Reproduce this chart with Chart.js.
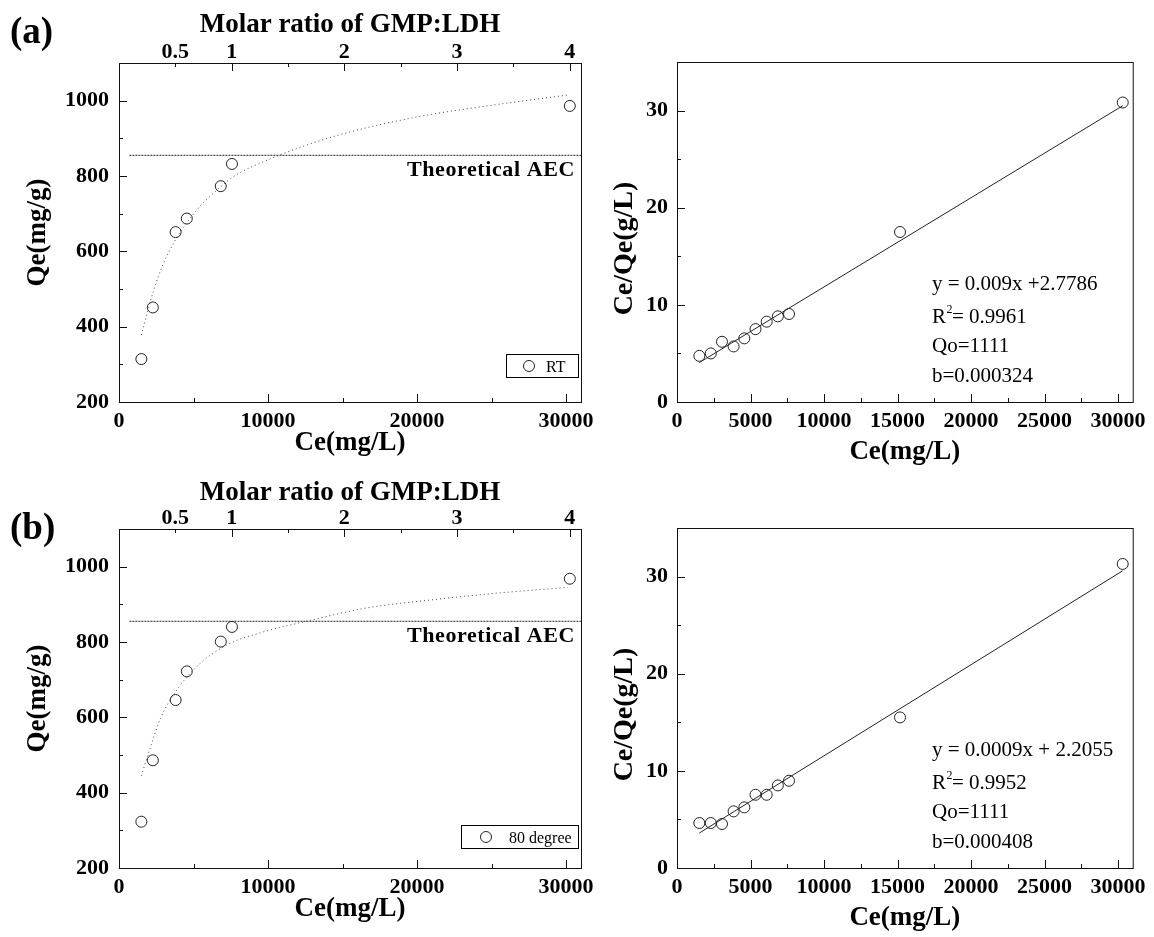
<!DOCTYPE html>
<html>
<head>
<meta charset="utf-8">
<title>GMP-LDH isotherms</title>
<script src="https://cdn.jsdelivr.net/npm/chart.js@4.4.0/dist/chart.umd.min.js"></script>
<style>
  body { margin: 0; background: #fff; }
  #wrap { position: relative; width: 1154px; height: 937px; overflow: hidden; }
  canvas { position: absolute; }
</style>
</head>
<body>
<div id="wrap">
  <canvas id="isoA" width="605" height="466" style="left:0;top:0"></canvas>
  <canvas id="linA" width="554" height="466" style="left:600px;top:0"></canvas>
  <canvas id="isoB" width="605" height="466" style="left:0;top:466px"></canvas>
  <canvas id="linB" width="554" height="466" style="left:600px;top:466px"></canvas>
</div>
<script>
// ********* data *********

// (a) room temperature isotherm
const ceIsoA = [1500, 2270, 3800, 4550, 6830, 7580, 30250];
const qeIsoA = [314, 451, 651, 687, 773, 832, 986];
const ceCurveA = [1500, 2330, 2890, 3780, 5220, 6330, 7670, 10000, 14330, 19890, 24330, 30110];
const qeCurveA = [378, 497, 559, 630, 710, 754, 798, 843, 904, 956, 984, 1015];

// (b) 80 degree isotherm
const ceIsoB = [1500, 2270, 3800, 4550, 6830, 7580, 30250];
const qeIsoB = [323, 486, 646, 722, 801, 840, 968];
const ceCurveB = [1500, 2120, 2780, 3890, 5220, 7220, 9450, 13000, 16560, 21000, 25450, 30110];
const qeCurveB = [445, 522, 597, 673, 735, 792, 824, 859, 890, 912, 930, 945];

// theoretical AEC line
const aecQe = 855;
const aecCe = [700, 31000];

// Langmuir linear plots Ce/Qe vs Ce
const ceLin = [1520, 2300, 3060, 3850, 4580, 5340, 6100, 6860, 7620, 15170, 30320];
const cqA = [4.75, 5.0, 6.2, 5.72, 6.55, 7.5, 8.27, 8.82, 9.06, 17.5, 30.83];
const cqB = [4.63, 4.63, 4.53, 5.83, 6.24, 7.54, 7.54, 8.5, 8.98, 15.5, 31.3];
const ceFit = [1520, 30320];
const cqFitA = [4.06, 30.5];
const cqFitB = [3.6, 30.6];

// axes: tick positions and the labelled ones
const ceMax = 31000;
const molarMax = 4.1;
const molarTicks = [0.5, 1, 1.5, 2, 2.5, 3, 3.5, 4];
const molarLabels = [0.5, 1, 2, 3, 4];
const qeTicks = [200, 300, 400, 500, 600, 700, 800, 900, 1000, 1100];
const qeLabels = [200, 400, 600, 800, 1000];
const ceTicksIso = [0, 5000, 10000, 15000, 20000, 25000, 30000];
const ceLabelsIso = [0, 10000, 20000, 30000];
const ceTicksLin = [0, 2500, 5000, 7500, 10000, 12500, 15000, 17500, 20000, 22500, 25000, 27500, 30000];
const ceLabelsLin = [0, 5000, 10000, 15000, 20000, 25000, 30000];
const cqTicks = [0, 5, 10, 15, 20, 25, 30];
const cqLabels = [0, 10, 20, 30];

const eqA = ['y = 0.009x +2.7786', '0.9961', 'Qo=1111', 'b=0.000324'];
const eqB = ['y = 0.0009x + 2.2055', '0.9952', 'Qo=1111', 'b=0.000408'];

// ********* helpers *********

const SERIF = "'Liberation Serif', 'Times New Roman', Times, serif";
const tickFont = () => ({ family: SERIF, size: 22, weight: 'bold', lineHeight: 1 });
const titleFont = () => ({ family: SERIF, size: 27, weight: 'bold', lineHeight: 1 });
const toXY = (xs, ys) => xs.map((x, i) => ({ x: x, y: ys[i] }));
const has = (list, v) => list.some(l => Math.abs(l - v) < 1e-6);
const labelOnly = list => v => has(list, v) ? String(v) : '';
const fixTicks = list => s => { s.ticks = list.map(v => ({ value: v })); };

// frame + inward tick marks
const inTicks = {
  id: 'inTicks',
  afterDraw(chart, args, o) {
    const ctx = chart.ctx, a = chart.chartArea;
    ctx.save();
    ctx.strokeStyle = '#111';
    ctx.lineWidth = 1;
    ctx.strokeRect(a.left + 0.5, a.top + 0.5, a.right - a.left, a.bottom - a.top);
    Object.keys(chart.scales).forEach(id => {
      const s = chart.scales[id], step = o.major[id];
      s.ticks.forEach(t => {
        const r = t.value / step;
        const len = Math.abs(r - Math.round(r)) < 1e-6 ? 8 : 4;
        const p = Math.round(s.getPixelForValue(t.value)) + 0.5;
        ctx.beginPath();
        if (s.position === 'bottom') { ctx.moveTo(p, a.bottom); ctx.lineTo(p, a.bottom - len); }
        else if (s.position === 'top') { ctx.moveTo(p, a.top); ctx.lineTo(p, a.top + len); }
        else { ctx.moveTo(a.left, p); ctx.lineTo(a.left + len, p); }
        ctx.stroke();
      });
    });
    ctx.restore();
  }
};

// panel letters, AEC label, legend box, equations
const notes = {
  id: 'notes',
  afterDraw(chart, args, o) {
    const ctx = chart.ctx, a = chart.chartArea;
    ctx.save();
    ctx.fillStyle = '#000';
    ctx.textBaseline = 'alphabetic';
    if (o.letter) {
      ctx.font = 'bold 37px ' + SERIF;
      ctx.textAlign = 'left';
      ctx.fillText(o.letter.text, o.letter.x, o.letter.y);
    }
    if (o.aec) {
      const y = chart.scales.y.getPixelForValue(aecQe);
      ctx.font = 'bold 22px ' + SERIF;
      ctx.textAlign = 'right';
      ctx.letterSpacing = '0.6px';
      ctx.fillText('Theoretical AEC', a.right - 6, y + 21);
      ctx.letterSpacing = '0px';
    }
    if (o.legend) {
      const L = o.legend, left = a.right - 3 - L.w;
      ctx.strokeStyle = '#000';
      ctx.lineWidth = 1;
      ctx.strokeRect(left + 0.5, L.top + 0.5, L.w, 23);
      ctx.strokeStyle = '#222';
      ctx.beginPath();
      ctx.arc(left + L.dot, L.top + 12, 5.5, 0, Math.PI * 2);
      ctx.stroke();
      ctx.font = '16px ' + SERIF;
      ctx.textAlign = 'left';
      ctx.fillText(chart.data.datasets[0].label, left + L.txt, L.top + 18);
    }
    if (o.eq) {
      const x = a.left + 255, base = [290, 323, 352, 382];
      ctx.textAlign = 'left';
      ctx.font = '21px ' + SERIF;
      ctx.fillText(o.eq[0], x, base[0]);
      ctx.fillText('R', x, base[1]);
      const w = ctx.measureText('R').width;
      ctx.font = '12px ' + SERIF;
      ctx.fillText('2', w + x + 0.5, base[1] - 10);
      ctx.font = '21px ' + SERIF;
      ctx.fillText('= ' + o.eq[1], x + w + 6, base[1]);
      ctx.fillText(o.eq[2], x, base[2]);
      ctx.fillText(o.eq[3], x, base[3]);
    }
    if (o.yTitle) {
      ctx.translate(o.yTitle.x, o.yTitle.y);
      ctx.rotate(-Math.PI / 2);
      ctx.font = 'bold 28px ' + SERIF;
      ctx.textAlign = 'center';
      ctx.textBaseline = 'middle';
      ctx.fillText(o.yTitle.text, 0, 0);
    }
    ctx.restore();
  }
};

const noGrid = { display: false, drawTicks: false };
const baseTicks = { autoSkip: false, maxRotation: 0, color: '#000' };

// ********* isotherm panels (left) *********

const isoChart = (id, p) => new Chart(document.getElementById(id), {
  type: 'scatter',
  data: {
    datasets: [{
      label: p.name,
      data: toXY(p.ce, p.qe),
      pointRadius: 5.5, pointHoverRadius: 5.5,
      borderColor: '#222', backgroundColor: 'rgba(0,0,0,0)', borderWidth: 1
    }, {
      data: toXY(p.ceCurve, p.qeCurve),
      showLine: true, pointRadius: 0, cubicInterpolationMode: 'monotone',
      borderColor: '#444', borderWidth: 1, borderDash: [1, 3]
    }, {
      data: toXY(aecCe, [aecQe, aecQe]),
      showLine: true, pointRadius: 0,
      borderColor: '#222', borderWidth: 1, borderDash: [2, 1]
    }]
  },
  options: {
    responsive: false, animation: false, devicePixelRatio: 1,
    layout: { padding: { left: 0, right: 24, top: 0, bottom: 0 } },
    plugins: {
      legend: { display: false }, tooltip: { enabled: false },
      inTicks: { major: { x: 10000, x2: 1, y: 200 } },
      notes: { letter: p.letter, aec: true, legend: p.legend }
    },
    scales: {
      x: {
        type: 'linear', position: 'bottom', min: 0, max: ceMax,
        grid: noGrid, border: { display: false },
        afterBuildTicks: fixTicks(ceTicksIso),
        ticks: Object.assign({}, baseTicks, { padding: 8, font: tickFont(), callback: labelOnly(ceLabelsIso) }),
        title: { display: true, text: 'Ce(mg/L)', color: '#000', font: titleFont(), padding: { top: 0, bottom: 9.5 } },
        afterFit: s => { s.height = 64; }
      },
      x2: {
        type: 'linear', position: 'top', min: 0, max: molarMax,
        grid: noGrid, border: { display: false },
        afterBuildTicks: fixTicks(molarTicks),
        ticks: Object.assign({}, baseTicks, { padding: 0, font: tickFont(), callback: labelOnly(molarLabels) }),
        title: { display: true, text: 'Molar ratio of GMP:LDH', color: '#000', font: titleFont(), padding: { top: p.topPad, bottom: 0 } },
        afterFit: s => { s.height = 63; }
      },
      y: {
        type: 'linear', position: 'left', min: 200, max: 1100,
        grid: noGrid, border: { display: false },
        afterBuildTicks: fixTicks(qeTicks),
        ticks: Object.assign({}, baseTicks, { padding: 10, font: tickFont(), callback: labelOnly(qeLabels) }),
        title: { display: true, text: 'Qe(mg/g)', color: '#000', font: titleFont(), padding: { top: 24.5, bottom: 0 } },
        afterFit: s => { s.width = 119; }
      }
    }
  },
  plugins: [inTicks, notes]
});

// ********* linear Langmuir panels (right) *********

const linChart = (id, cq, fit, eq) => new Chart(document.getElementById(id), {
  type: 'scatter',
  data: {
    datasets: [{
      label: 'data',
      data: toXY(ceLin, cq),
      pointRadius: 5.5, pointHoverRadius: 5.5,
      borderColor: '#222', backgroundColor: 'rgba(0,0,0,0)', borderWidth: 1
    }, {
      data: toXY(ceFit, fit),
      showLine: true, pointRadius: 0,
      borderColor: '#222', borderWidth: 1
    }]
  },
  options: {
    responsive: false, animation: false, devicePixelRatio: 1,
    layout: { padding: { left: 0, right: 15, top: 62, bottom: 0 } },
    plugins: {
      legend: { display: false }, tooltip: { enabled: false },
      inTicks: { major: { x: 5000, y: 10 } },
      notes: { eq: eq, yTitle: { text: 'Ce/Qe(g/L)', x: 25, y: 248.5 } }
    },
    scales: {
      x: {
        type: 'linear', position: 'bottom', min: 0, max: ceMax,
        grid: noGrid, border: { display: false },
        afterBuildTicks: fixTicks(ceTicksLin),
        ticks: Object.assign({}, baseTicks, { padding: 8, font: tickFont(), callback: labelOnly(ceLabelsLin) }),
        title: { display: true, text: 'Ce(mg/L)', color: '#000', font: titleFont(), padding: { top: 0, bottom: 0 } },
        afterFit: s => { s.height = 64; }
      },
      y: {
        type: 'linear', position: 'left', min: 0, max: 35,
        grid: noGrid, border: { display: false },
        afterBuildTicks: fixTicks(cqTicks),
        ticks: Object.assign({}, baseTicks, { padding: 9, font: tickFont(), callback: labelOnly(cqLabels) }),
        afterFit: s => { s.width = 77; }
      }
    }
  },
  plugins: [inTicks, notes]
});

isoChart('isoA', {
  name: 'RT', ce: ceIsoA, qe: qeIsoA, ceCurve: ceCurveA, qeCurve: qeCurveA,
  letter: { text: '(a)', x: 10, y: 43 }, topPad: 12,
  legend: { w: 72, top: 354, dot: 23, txt: 40 }
});
isoChart('isoB', {
  name: '80 degree', ce: ceIsoB, qe: qeIsoB, ceCurve: ceCurveB, qeCurve: qeCurveB,
  letter: { text: '(b)', x: 10, y: 73 }, topPad: 14,
  legend: { w: 117, top: 359, dot: 25, txt: 48 }
});
linChart('linA', cqA, cqFitA, eqA);
linChart('linB', cqB, cqFitB, eqB);
</script>
</body>
</html>
